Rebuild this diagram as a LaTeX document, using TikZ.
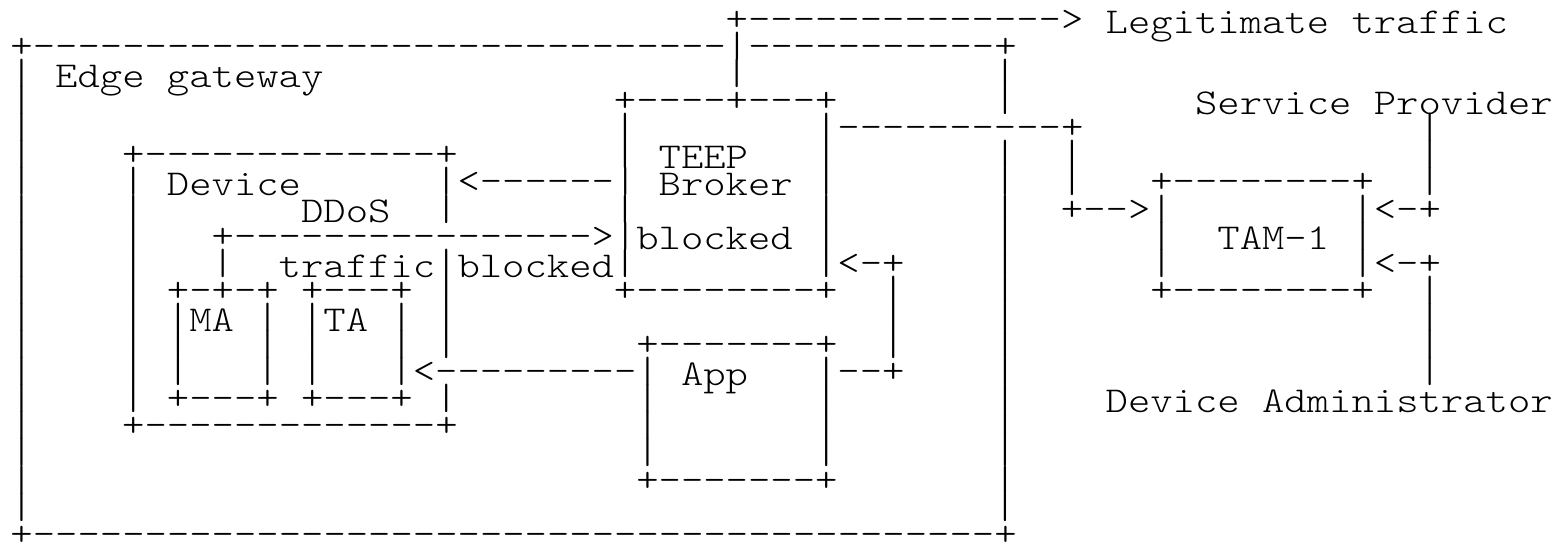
\documentclass[tikz,border=0pt]{standalone}
\usepackage{fontspec}
\newfontfamily\asc{lmmonolt10-regular.otf}[FakeStretch=1.17]
\tikzset{
  boxch/.style={anchor=base west, inner sep=0pt, outer sep=0pt, font=\asc\fontsize{18.2pt}{18.2pt}\selectfont},
  txtch/.style={anchor=base west, inner sep=0pt, outer sep=0pt, font=\asc\fontsize{18.2pt}{18.2pt}\selectfont}
}
\newcommand\bxr[3]{\node[boxch] (L#2C#1) at ({10.5+22.35*#1},{30.3+27.1*#2}) {#3};}
\newcommand\txr[3]{\node[txtch] (L#2C#1) at ({10.5+22.35*#1},{33.1+27.1*#2}) {#3};}
\begin{document}
\begin{tikzpicture}[x=0.5pt,y=-0.5pt]
\useasboundingbox[fill=white] (0,0) rectangle (1555,543);
% line 0
\bxr{32}{0}{+-{}-{}-{}-{}-{}-{}-{}-{}-{}-{}-{}-{}-{}->}
\txr{49}{0}{Legitimate}
\txr{60}{0}{traffic}
% line 1
\bxr{0}{1}{+-------------------------------|-----------+}
% line 2
\bxr{0}{2}{|}
\txr{2}{2}{Edge}
\txr{7}{2}{gateway}
\bxr{32}{2}{|}
\bxr{44}{2}{|}
% line 3
\bxr{0}{3}{|}
\bxr{27}{3}{+----+---+}
\bxr{44}{3}{|}
\txr{53}{3}{Service}
\txr{61}{3}{Provider}
% line 4
\bxr{0}{4}{|}
\bxr{27}{4}{|}
\bxr{36}{4}{|----------+}
\bxr{63}{4}{|}
% line 5
\bxr{0}{5}{|}
\bxr{5}{5}{+-------------+}
\bxr{27}{5}{|}
\txr{29}{5}{TEEP}
\bxr{36}{5}{|}
\bxr{44}{5}{|}
\bxr{47}{5}{|}
\bxr{63}{5}{|}
% line 6
\bxr{0}{6}{|}
\bxr{5}{6}{|}
\txr{7}{6}{Device}
\bxr{19}{6}{|<------|}
\txr{29}{6}{Broker}
\bxr{36}{6}{|}
\bxr{44}{6}{|}
\bxr{47}{6}{|}
\bxr{51}{6}{+--------+}
\bxr{63}{6}{|}
% line 7
\bxr{0}{7}{|}
\bxr{5}{7}{|}
\txr{13}{7}{DDoS}
\bxr{19}{7}{|}
\bxr{27}{7}{|}
\bxr{36}{7}{|}
\bxr{44}{7}{|}
\bxr{47}{7}{+-->|}
\bxr{60}{7}{|<-+}
% line 8
\bxr{0}{8}{|}
\bxr{5}{8}{|}
\bxr{9}{8}{+---------------->|}
\txr{28}{8}{blocked}
\bxr{36}{8}{|}
\bxr{44}{8}{|}
\bxr{51}{8}{|}
\txr{54}{8}{TAM-1}
\bxr{60}{8}{|}
% line 9
\bxr{0}{9}{|}
\bxr{5}{9}{|}
\bxr{9}{9}{|}
\txr{12}{9}{traffic}
\bxr{19}{9}{|}
\txr{20}{9}{blocked}
\bxr{27}{9}{|}
\bxr{36}{9}{|<-+}
\bxr{44}{9}{|}
\bxr{51}{9}{|}
\bxr{60}{9}{|<-+}
% line 10
\bxr{0}{10}{|}
\bxr{5}{10}{|}
\bxr{7}{10}{+-+-+}
\bxr{13}{10}{+---+}
\bxr{19}{10}{|}
\bxr{27}{10}{+--------+}
\bxr{39}{10}{|}
\bxr{44}{10}{|}
\bxr{51}{10}{+--------+}
\bxr{63}{10}{|}
% line 11
\bxr{0}{11}{|}
\bxr{5}{11}{|}
\bxr{7}{11}{|}
\txr{8}{11}{MA}
\bxr{11}{11}{|}
\bxr{13}{11}{|}
\txr{14}{11}{TA}
\bxr{17}{11}{|}
\bxr{19}{11}{|}
\bxr{39}{11}{|}
\bxr{44}{11}{|}
\bxr{63}{11}{|}
% line 12
\bxr{0}{12}{|}
\bxr{5}{12}{|}
\bxr{7}{12}{|}
\bxr{11}{12}{|}
\bxr{13}{12}{|}
\bxr{17}{12}{|}
\bxr{19}{12}{|}
\bxr{28}{12}{+-------+}
\bxr{39}{12}{|}
\bxr{44}{12}{|}
\bxr{63}{12}{|}
% line 13
\bxr{0}{13}{|}
\bxr{5}{13}{|}
\bxr{7}{13}{|}
\bxr{11}{13}{|}
\bxr{13}{13}{|}
\bxr{17}{13}{|<---------|}
\txr{30}{13}{App}
\bxr{36}{13}{|--+}
\bxr{44}{13}{|}
\bxr{63}{13}{|}
% line 14
\bxr{0}{14}{|}
\bxr{5}{14}{|}
\bxr{7}{14}{+---+}
\bxr{13}{14}{+---+}
\bxr{19}{14}{|}
\bxr{28}{14}{|}
\bxr{36}{14}{|}
\bxr{44}{14}{|}
\txr{49}{14}{Device}
\txr{56}{14}{Administrator}
% line 15
\bxr{0}{15}{|}
\bxr{5}{15}{+-------------+}
\bxr{28}{15}{|}
\bxr{36}{15}{|}
\bxr{44}{15}{|}
% line 16
\bxr{0}{16}{|}
\bxr{28}{16}{|}
\bxr{36}{16}{|}
\bxr{44}{16}{|}
% line 17
\bxr{0}{17}{|}
\bxr{28}{17}{+-------+}
\bxr{44}{17}{|}
% line 18
\bxr{0}{18}{|}
\bxr{44}{18}{|}
% line 19
\bxr{0}{19}{+-------------------------------------------+}
\end{tikzpicture}
\end{document}
